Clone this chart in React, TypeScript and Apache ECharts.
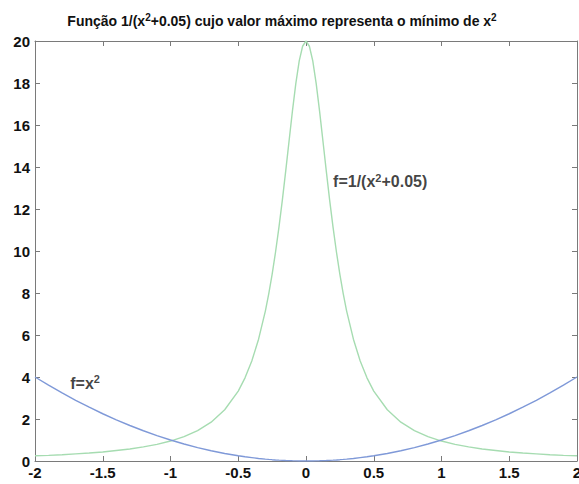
import React, { useEffect, useRef } from "react";
import * as echarts from "echarts";

const xValues = [
  -2, -1.9, -1.8, -1.7, -1.6, -1.5, -1.4, -1.3, -1.2, -1.1, -1, -0.9, -0.8, -0.7, -0.6,
  -0.5, -0.45, -0.4, -0.35, -0.3, -0.275, -0.25, -0.225, -0.2, -0.175, -0.15, -0.125,
  -0.1, -0.075, -0.05, -0.025, 0,
  0.025, 0.05, 0.075, 0.1, 0.125, 0.15, 0.175, 0.2, 0.225, 0.25, 0.275, 0.3, 0.35, 0.4,
  0.45, 0.5,
  0.6, 0.7, 0.8, 0.9, 1, 1.1, 1.2, 1.3, 1.4, 1.5, 1.6, 1.7, 1.8, 1.9, 2,
];
const squareValues = [
  4, 3.61, 3.24, 2.89, 2.56, 2.25, 1.96, 1.69, 1.44, 1.21, 1, 0.81, 0.64, 0.49, 0.36,
  0.25, 0.2, 0.16, 0.12, 0.09, 0.076, 0.063, 0.051, 0.04, 0.031, 0.023, 0.016,
  0.01, 0.006, 0.003, 0.001, 0,
  0.001, 0.003, 0.006, 0.01, 0.016, 0.023, 0.031, 0.04, 0.051, 0.063, 0.076, 0.09, 0.12, 0.16,
  0.2, 0.25,
  0.36, 0.49, 0.64, 0.81, 1, 1.21, 1.44, 1.69, 1.96, 2.25, 2.56, 2.89, 3.24, 3.61, 4,
];
const inverseValues = [
  0.25, 0.27, 0.3, 0.34, 0.38, 0.43, 0.5, 0.57, 0.67, 0.79, 0.95, 1.16, 1.45, 1.85, 2.44,
  3.33, 3.96, 4.76, 5.8, 7.14, 7.96, 8.89, 9.94, 11.11, 12.4, 13.79, 15.24,
  16.67, 17.98, 19.05, 19.75, 20,
  19.75, 19.05, 17.98, 16.67, 15.24, 13.79, 12.4, 11.11, 9.94, 8.89, 7.96, 7.14, 5.8, 4.76,
  3.96, 3.33,
  2.44, 1.85, 1.45, 1.16, 0.95, 0.79, 0.67, 0.57, 0.5, 0.43, 0.38, 0.34, 0.3, 0.27, 0.25,
];
const annotationTexts = ["f=1/(x{sup|2}+0.05)", "f=x{sup|2}"];
const annotationPoints = [
  [0.2, 13.3],
  [-1.74, 3.7],
];
const titleText =
  "Função 1/(x{sup|2}+0.05) cujo valor máximo representa o mínimo de x{sup|2}";

const FONT = "'Liberation Sans', Arial, sans-serif";

export default function App() {
  const ref = useRef<HTMLDivElement>(null);
  useEffect(() => {
    if (!ref.current) return;
    const chart = echarts.init(ref.current, null, { renderer: "svg" });
    const axisColor = "#7a7a7a";
    const supStyle = (size: number, lift: number) => ({
      fontSize: size,
      fontFamily: FONT,
      fontWeight: "bold" as const,
      color: "#111",
      verticalAlign: "bottom" as const,
      padding: [0, 0, lift, 0],
    });
    const axisCommon = {
      type: "value" as const,
      axisLine: { show: true, onZero: false, lineStyle: { color: axisColor, width: 1 } },
      axisTick: { show: true, inside: true, length: 5, lineStyle: { color: axisColor } },
      splitLine: { show: false },
    };
    const labelStyle = {
      fontFamily: FONT,
      fontSize: 15,
      fontWeight: "bold" as const,
      color: "#111",
    };
    chart.setOption({
      animation: false,
      backgroundColor: "#ffffff",
      title: {
        text: titleText,
        left: 277,
        top: 7,
        textAlign: "center",
        textStyle: {
          fontFamily: FONT,
          fontSize: 14,
          fontWeight: "bold",
          color: "#111",
          rich: { sup: supStyle(10, 7) },
        },
      },
      grid: {
        left: 35,
        right: 2,
        top: 41,
        bottom: 23,
        containLabel: false,
        outerBoundsMode: "none",
      },
      xAxis: [
        {
          ...axisCommon,
          min: -2,
          max: 2,
          interval: 0.5,
          position: "bottom",
          axisLabel: { ...labelStyle, margin: 4 },
        },
        {
          ...axisCommon,
          min: -2,
          max: 2,
          interval: 0.5,
          position: "top",
          axisLabel: { show: false },
        },
      ],
      yAxis: [
        {
          ...axisCommon,
          min: 0,
          max: 20,
          interval: 2,
          position: "left",
          axisLabel: { ...labelStyle, margin: 5 },
        },
        {
          ...axisCommon,
          min: 0,
          max: 20,
          interval: 2,
          position: "right",
          axisLabel: { show: false },
        },
      ],
      series: [
        {
          type: "line",
          name: "x^2",
          xAxisIndex: 0,
          yAxisIndex: 0,
          data: xValues.map((x, i) => [x, squareValues[i]]),
          showSymbol: false,
          symbol: "none",
          lineStyle: { color: "#7f99d8", width: 1.4 },
          z: 3,
        },
        {
          type: "line",
          name: "1/(x^2+0.05)",
          xAxisIndex: 0,
          yAxisIndex: 0,
          data: xValues.map((x, i) => [x, inverseValues[i]]),
          showSymbol: false,
          symbol: "none",
          lineStyle: { color: "#a6dcb1", width: 1.4 },
          z: 2,
        },
        {
          type: "scatter",
          xAxisIndex: 0,
          yAxisIndex: 0,
          symbolSize: 0,
          silent: true,
          data: annotationPoints.map((p, i) => ({
            value: p,
            label: {
              show: true,
              position: "right",
              distance: 0,
              formatter: annotationTexts[i],
              fontFamily: FONT,
              fontSize: 16,
              fontWeight: "bold",
              color: "#111",
              rich: { sup: supStyle(11, 8) },
            },
          })),
          z: 5,
        },
      ],
    });
    return () => chart.dispose();
  }, []);
  return (
    <div
      ref={ref}
      style={{ position: "fixed", left: 0, top: 0, width: 579, height: 484, background: "#fff" }}
    />
  );
}
